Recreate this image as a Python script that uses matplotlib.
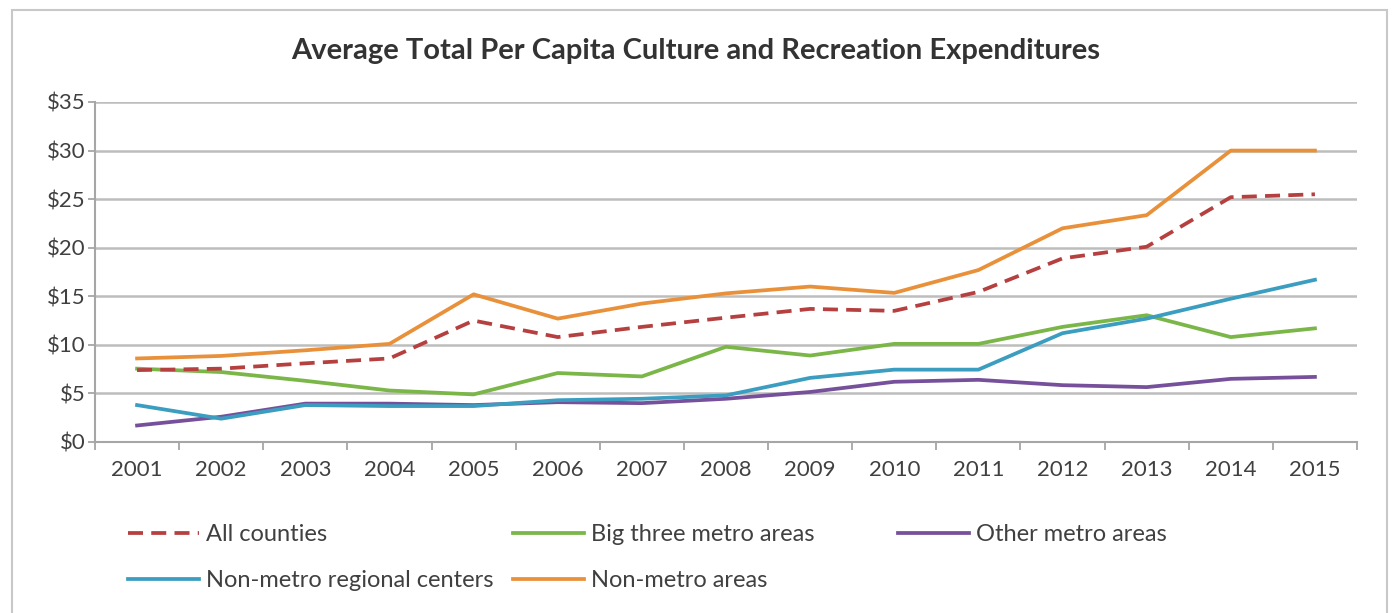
import numpy as np
import matplotlib
matplotlib.use("Agg")
import matplotlib.pyplot as plt
from matplotlib.patches import Rectangle
from matplotlib.ticker import FuncFormatter, MultipleLocator

plt.rcParams['font.family'] = ['Lato', 'DejaVu Sans']

years = list(range(2001, 2016))

all_counties = [7.4, 7.55, 8.1, 8.6, 12.5, 10.8, 11.85, 12.8, 13.7, 13.5, 15.45, 18.9, 20.1, 25.2, 25.5]
big_three = [7.55, 7.2, 6.3, 5.3, 4.9, 7.1, 6.75, 9.8, 8.9, 10.1, 10.1, 11.85, 13.05, 10.8, 11.7]
other_metro = [1.7, 2.6, 3.95, 3.95, 3.8, 4.1, 4.0, 4.45, 5.15, 6.2, 6.4, 5.85, 5.65, 6.5, 6.7]
nonmetro_regional = [3.8, 2.4, 3.8, 3.7, 3.7, 4.3, 4.45, 4.8, 6.6, 7.45, 7.45, 11.2, 12.7, 14.75, 16.7]
nonmetro = [8.6, 8.86, 9.44, 10.1, 15.2, 12.7, 14.25, 15.3, 16.0, 15.35, 17.7, 22.0, 23.35, 30.0, 30.0]

title = "Average Total Per Capita Culture and Recreation Expenditures"
text_col = "#404040"
grid_col = "#bdbdbd"

fig = plt.figure(figsize=(13.92, 6.13), dpi=100)
W, H = 1392, 613
ax = fig.add_axes([95 / W, 1 - 442 / H, (1357 - 95) / W, (442 - 102) / H])

lw = 2.7
l_all, = ax.plot(years, all_counties, color="#b5403f", lw=lw, ls=(0, (4, 2.2)), label="All counties", zorder=4)
l_big, = ax.plot(years, big_three, color="#7ab648", lw=lw, label="Big three metro areas", zorder=3)
l_oth, = ax.plot(years, other_metro, color="#76509b", lw=lw, label="Other metro areas", zorder=3)
l_reg, = ax.plot(years, nonmetro_regional, color="#3b9dbf", lw=lw, label="Non-metro regional centers", zorder=3)
l_non, = ax.plot(years, nonmetro, color="#e8913a", lw=lw, label="Non-metro areas", zorder=3)

ax.set_xlim(2000.5, 2015.5)
ax.set_ylim(0, 35)
ax.yaxis.set_major_locator(MultipleLocator(5))
ax.yaxis.set_major_formatter(FuncFormatter(lambda v, p: "$%d" % v))
ax.set_xticks(years)
ax.set_xticks(np.arange(2000.5, 2016, 1), minor=True)
ax.tick_params(axis='x', which='major', length=0, pad=13, labelsize=16, labelcolor=text_col)
ax.tick_params(axis='x', which='minor', length=6, width=1.3, color="#a6a6a6", direction='out')
ax.tick_params(axis='y', which='major', length=5, width=1.3, color="#a6a6a6", pad=2,
               labelsize=16, labelcolor=text_col)

ax.grid(axis='y', color=grid_col, lw=1.8, zorder=0)
ax.set_axisbelow(True)
for s in ['top', 'right']:
    ax.spines[s].set_visible(False)
for s in ['left', 'bottom']:
    ax.spines[s].set_color("#a6a6a6")
    ax.spines[s].set_linewidth(1.5)

fig.text(0.5, 1 - 51 / H, title, ha='center', va='center', fontsize=21, fontweight='bold', color="#333333")

# legend: three columns, two rows
cols = [([l_all, l_reg], 128), ([l_big, l_non], 513), ([l_oth], 898)]
for hs, x in cols:
    fig.legend(handles=hs, loc='upper left', bbox_to_anchor=(x / W, 1 - 524 / H),
               frameon=False, fontsize=17, handlelength=3.0, handletextpad=0.3,
               labelspacing=1.05, borderpad=0, borderaxespad=0, labelcolor=text_col)

fig.patches.append(Rectangle((12 / W, -0.01), (1387 - 12) / W, 1.01 - 10 / H,
                             transform=fig.transFigure, fill=False, edgecolor="#c8c8c8", lw=1.5))

fig.savefig("out.png", dpi=100)
